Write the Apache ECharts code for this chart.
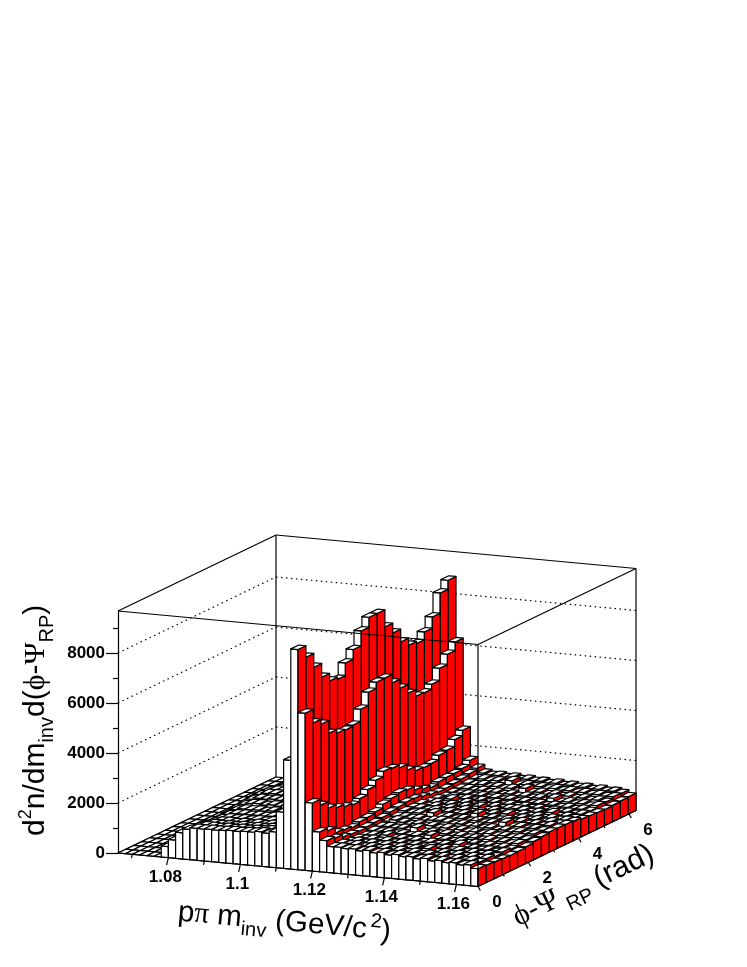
<!DOCTYPE html>
<html>
<head>
<meta charset="utf-8">
<script src="https://cdn.jsdelivr.net/npm/echarts@6/dist/echarts.min.js"></script>
<style>html,body{margin:0;padding:0;background:#fff}#main{width:747px;height:967px}</style>
</head>
<body>
<div id="main"></div>
<script>
const massMin = 1.066, massMax = 1.166, massBinWidth = 0.002;
const phiMax = 6.2832, phiBinWidth = 0.31416;
const zMax = 9680;

const massTicksMajor = [1.08, 1.1, 1.12, 1.14, 1.16];
const massTicksMinor = [1.07, 1.09, 1.11, 1.13, 1.15];
const phiTicksMajor = [0, 2, 4, 6];
const phiTicksMinor = [1, 3, 5];
const zTicksMajor = [0, 2000, 4000, 6000, 8000];
const zTicksMinor = [1000, 3000, 5000, 7000, 9000];

// counts[massBin][phiBin]
const zeroRow = [0,0,0,0,0,0,0,0,0,0,0,0,0,0,0,0,0,0,0,0];
const counts = [
  zeroRow, zeroRow, zeroRow, zeroRow, zeroRow, zeroRow,
  [440,430,410,400,395,400,410,430,450,470,465,450,420,405,395,395,410,430,450,465],
  [730,705,670,640,630,640,655,690,725,750,745,715,675,650,630,625,655,680,715,745],
  [1050,1005,960,915,890,905,935,990,1035,1070,1060,1020,965,925,895,890,935,975,1020,1060],
  [1210,1160,1100,1050,1030,1045,1075,1140,1195,1235,1225,1170,1105,1065,1030,1030,1075,1120,1175,1220],
  [1280,1225,1165,1115,1090,1100,1140,1205,1265,1305,1290,1245,1175,1125,1090,1095,1135,1185,1245,1290],
  [1275,1230,1150,1125,1080,1115,1130,1225,1250,1320,1295,1240,1170,1130,1095,1090,1140,1180,1240,1295],
  [1290,1215,1170,1110,1105,1090,1150,1190,1280,1295,1320,1245,1180,1120,1090,1105,1135,1195,1255,1285],
  [1285,1250,1155,1135,1085,1120,1125,1230,1260,1325,1280,1260,1165,1150,1100,1095,1150,1185,1235,1300],
  [1300,1225,1190,1100,1115,1100,1165,1200,1285,1300,1335,1240,1200,1125,1110,1105,1140,1195,1265,1295],
  [1320,1260,1165,1155,1095,1130,1135,1240,1270,1345,1295,1270,1185,1140,1100,1115,1155,1205,1250,1315],
  [1310,1250,1200,1120,1130,1105,1180,1215,1305,1315,1350,1255,1205,1145,1120,1105,1150,1195,1275,1310],
  [1335,1270,1180,1170,1105,1145,1145,1255,1280,1360,1310,1280,1195,1155,1115,1125,1170,1215,1265,1330],
  [1340,1275,1220,1135,1140,1120,1195,1225,1320,1335,1370,1270,1215,1160,1130,1125,1165,1210,1290,1330],
  [1380,1310,1210,1185,1135,1170,1180,1280,1315,1400,1360,1320,1230,1185,1140,1150,1195,1245,1300,1370],
  [1350,1300,1250,1170,1170,1155,1225,1255,1355,1370,1405,1310,1245,1190,1160,1155,1200,1245,1315,1370],
  [1430,1370,1290,1240,1200,1220,1250,1330,1390,1450,1440,1370,1300,1240,1205,1200,1260,1310,1370,1430],
  [2250,2140,2010,1900,1840,1850,1950,2060,2190,2290,2280,2130,2010,1890,1830,1820,1910,2030,2170,2270],
  [4350,4130,3860,3590,3450,3420,3650,3850,4120,4300,4310,4000,3800,3550,3420,3390,3540,3750,4130,4300],
  [8808,8348,7796,7244,6944,6860,7360,7744,8336,8732,8728,8040,7648,7136,6852,6768,7080,7528,8336,8692],
  [6288,5748,5544,5028,4880,4848,4896,5384,5912,6160,6168,5828,5464,5108,4840,4820,5016,5504,5912,6252],
  [2724,2476,2208,2068,1956,1872,1988,2196,2416,2624,2580,2452,2208,2028,1996,2020,2200,2248,2524,2744],
  [1592,1480,1248,1204,1144,1232,1256,1328,1484,1560,1632,1588,1436,1308,1224,1312,1336,1344,1392,1564],
  [1270,1210,1100,1060,1030,1060,1080,1130,1200,1250,1290,1270,1190,1120,1070,1080,1110,1150,1210,1280],
  [1050,1030,950,935,900,945,950,1010,1050,1120,1110,1100,1020,990,940,950,960,1010,1040,1110],
  [1060,1000,990,915,935,910,975,1085,1060,1060,1105,1020,1015,930,945,900,970,975,1055,1045],
  [1020,1035,935,950,890,945,930,1020,1020,1090,1055,1060,960,1040,890,935,920,1005,1000,1070],
  [1045,965,970,895,990,880,960,955,1050,1030,1085,985,995,895,925,870,955,935,1035,1010],
  [990,1005,920,935,865,915,900,1005,990,1150,1020,1035,925,945,860,915,890,985,970,1055],
  [1035,950,955,870,905,860,1030,935,1030,1005,1065,955,980,875,905,845,935,915,1090,985],
  [965,985,895,915,845,895,875,985,1050,1050,1000,1015,905,925,835,895,870,965,945,1025],
  [1005,925,930,850,885,835,915,915,1005,980,1035,935,1030,855,880,825,915,895,985,965],
  [935,965,875,890,825,965,850,955,945,1025,965,985,885,900,815,880,845,1020,925,995],
  [975,895,905,825,860,815,895,885,985,945,1100,905,925,835,860,805,885,875,955,935],
  [915,940,845,865,795,855,825,935,915,995,935,965,855,875,795,850,825,915,895,975],
  [945,875,960,805,835,785,875,865,955,925,985,885,895,880,835,785,865,845,935,905],
  [885,915,825,845,775,825,805,905,895,965,915,1015,835,850,775,825,795,895,875,945],
  [925,845,855,775,885,765,845,845,935,895,965,865,875,785,810,755,910,825,905,885],
  [855,885,795,815,755,805,775,885,865,1035,885,905,815,825,745,805,775,865,845,915],
  [895,815,835,755,785,735,825,815,905,875,935,835,845,765,785,735,815,795,885,855],
  [835,855,775,785,725,775,755,855,845,915,855,885,785,870,725,775,755,845,825,895],
  [865,795,805,735,765,715,795,795,885,845,905,815,825,735,760,715,795,775,855,835],
  [805,835,755,765,705,755,735,825,815,895,835,855,765,775,705,755,725,815,805,865],
  [835,775,785,705,745,695,775,775,855,825,885,795,795,715,735,695,775,755,825,805],
  [710,690,660,640,620,640,670,730,770,810,810,800,770,700,680,660,640,660,680,700]
];

// title pieces, laid out left to right along a rotated baseline
const massTitle = [
  {t: 'p', s: 29.5}, {t: 'π', s: 29.5, serif: true}, {t: ' m', s: 29.5},
  {t: 'inv', s: 20, dy: 8}, {t: ' (GeV/c', s: 29.5}, {t: ' ', s: 12}, {t: '2', s: 20, dy: -12}, {t: ')', s: 29.5}
];
const zTitle = [
  {t: 'd', s: 30}, {t: '2', s: 18, dy: -14}, {t: 'n/dm', s: 30}, {t: 'inv', s: 20, dy: 8},
  {t: 'd(', s: 30}, {t: 'ϕ', s: 30, serif: true}, {t: '-', s: 30}, {t: 'Ψ', s: 30, serif: true},
  {t: 'RP', s: 20, dy: 8}, {t: ')', s: 30}
];
const phiTitle = [
  {t: 'ϕ', s: 30, serif: true}, {t: '-', s: 30}, {t: 'Ψ', s: 30, serif: true},
  {t: ' RP', s: 20, dy: 8}, {t: ' (rad)', s: 30}
];

const SANS = '"Liberation Sans", Arial, sans-serif';
const SERIF = '"Liberation Serif", "DejaVu Serif", serif';
const measure = document.createElement('canvas').getContext('2d');

// deg is clockwise on screen
function buildTitle(x, y, deg, parts) {
  let cx = 0;
  const children = parts.map(function (p) {
    const fam = p.serif ? SERIF : SANS;
    measure.font = p.s + 'px ' + fam;
    const w = measure.measureText(p.t).width;
    const el = {
      type: 'text',
      x: cx,
      y: (p.dy || 0) - 0.33 * p.s,
      style: { text: p.t, fontSize: p.s, fontFamily: fam, fill: '#000', align: 'left', verticalAlign: 'middle' }
    };
    cx += w;
    return el;
  });
  return { type: 'group', x: x, y: y, rotation: -deg * Math.PI / 180, silent: true, children: children };
}

// the box sits on the mass/count grid, phi shears it back and to the right
function project(api, mass, phi, z) {
  const p = api.coord([mass, z]);
  const u = (mass - massMin) / (massMax - massMin);
  const v = phi / phiMax;
  return [p[0] + 158 * v, p[1] + 33.5 * u - 76 * v];
}

function line(a, b, style) {
  return { type: 'line', shape: { x1: a[0], y1: a[1], x2: b[0], y2: b[1] }, style: style };
}

const barData = [];
for (let j = 19; j >= 0; j--) {
  for (let i = 0; i < counts.length; i++) {
    barData.push([massMin + i * massBinWidth, j * phiBinWidth, counts[i][j]]);
  }
}

function renderBar(params, api) {
  const m0 = api.value(0), m1 = m0 + massBinWidth;
  const f0 = api.value(1), f1 = f0 + phiBinWidth;
  const h = api.value(2);
  const edge = { stroke: '#000', lineWidth: 1.2, lineJoin: 'round' };
  const a = project(api, m0, f0, h), b = project(api, m1, f0, h);
  const c = project(api, m1, f1, h), d = project(api, m0, f1, h);
  const b0 = project(api, m1, f0, 0), a0 = project(api, m0, f0, 0), c0 = project(api, m1, f1, 0);
  const children = [];
  if (h > 0) {
    children.push({ type: 'polygon', shape: { points: [a, b, b0, a0] }, style: Object.assign({ fill: '#fff' }, edge) });
    children.push({ type: 'polygon', shape: { points: [b, c, c0, b0] }, style: Object.assign({ fill: '#f00' }, edge) });
  }
  children.push({ type: 'polygon', shape: { points: [a, b, c, d] }, style: Object.assign({ fill: '#fff' }, edge) });
  return { type: 'group', children: children };
}

function renderWalls(params, api) {
  const solid = { stroke: '#000', lineWidth: 1.2 };
  const dotted = { stroke: '#000', lineWidth: 1.2, lineDash: [1.5, 3.5] };
  const children = [];
  const lo = massMin, hi = massMax;
  zTicksMajor.forEach(function (z) {
    if (z === 0) return;
    const a = project(api, lo, 0, z), b = project(api, lo, phiMax, z), c = project(api, hi, phiMax, z);
    children.push(line(a, b, dotted), line(b, c, dotted));
  });
  const a0 = project(api, lo, 0, 0), b0 = project(api, lo, phiMax, 0), c0 = project(api, hi, phiMax, 0);
  const a1 = project(api, lo, 0, zMax), b1 = project(api, lo, phiMax, zMax), c1 = project(api, hi, phiMax, zMax);
  children.push(line(a1, b1, solid), line(b1, c1, solid), line(b0, b1, solid), line(c0, c1, solid), line(a0, b0, solid));
  return { type: 'group', children: children };
}

function renderFront(params, api) {
  const solid = { stroke: '#000', lineWidth: 1.2 };
  const lo = massMin, hi = massMax;
  const a0 = project(api, lo, 0, 0), d0 = project(api, hi, 0, 0), c0 = project(api, hi, phiMax, 0);
  const a1 = project(api, lo, 0, zMax), d1 = project(api, hi, 0, zMax), c1 = project(api, hi, phiMax, zMax);
  const children = [line(a1, d1, solid), line(d1, c1, solid), line(d0, d1, solid), line(a0, d0, solid), line(d0, c0, solid)];

  massTicksMajor.concat(massTicksMinor).forEach(function (m) {
    const major = massTicksMajor.indexOf(m) >= 0;
    const p = project(api, m, 0, 0);
    children.push(line(p, major ? [p[0] - 1.8, p[1] + 7.5] : [p[0] - 0.9, p[1] + 3.8], solid));
    if (major) {
      children.push({
        type: 'text', x: p[0] - 3, y: p[1] + 19.5,
        style: { text: String(m), fontSize: 17, fontWeight: 'bold', fontFamily: SANS, fill: '#000', align: 'center', verticalAlign: 'middle' }
      });
    }
  });
  phiTicksMajor.concat(phiTicksMinor).forEach(function (f) {
    const major = phiTicksMajor.indexOf(f) >= 0;
    const p = project(api, massMax, f, 0);
    children.push(line(p, major ? [p[0] + 2.4, p[1] + 4] : [p[0] + 1.2, p[1] + 2], solid));
    if (major) {
      children.push({
        type: 'text', x: p[0] + 19, y: p[1] + 16,
        style: { text: String(f), fontSize: 17, fontWeight: 'bold', fontFamily: SANS, fill: '#000', align: 'center', verticalAlign: 'middle' }
      });
    }
  });
  return { type: 'group', children: children };
}

const chart = echarts.init(document.getElementById('main'), null, { renderer: 'canvas' });

chart.setOption({
  animation: false,
  backgroundColor: '#fff',
  grid: { left: 118, top: 611, width: 360, height: 242 },
  xAxis: { type: 'value', min: massMin, max: massMax, show: false },
  yAxis: [
    {
      type: 'value', min: 0, max: zMax, position: 'left', splitLine: { show: false },
      axisLine: { show: true, onZero: false, lineStyle: { color: '#000', width: 1.2 } },
      axisTick: { show: true, length: 12, lineStyle: { color: '#000', width: 1.2 }, customValues: zTicksMajor },
      axisLabel: {
        customValues: zTicksMajor, margin: 13, fontSize: 17, fontWeight: 'bold',
        fontFamily: SANS, color: '#000', formatter: function (v) { return String(v); }
      }
    },
    {
      type: 'value', min: 0, max: zMax, position: 'left', splitLine: { show: false },
      axisLine: { show: false },
      axisTick: { show: true, length: 5, lineStyle: { color: '#000', width: 1.2 }, customValues: zTicksMinor },
      axisLabel: { show: false }
    }
  ],
  graphic: [
    buildTitle(177, 922, 5.3, massTitle),
    buildTitle(46, 836, -90, zTitle),
    buildTitle(519, 928, -25.7, phiTitle)
  ],
  series: [
    { type: 'custom', z: 1, silent: true, clip: false, data: [[massMin, 0]], renderItem: renderWalls },
    {
      type: 'custom', z: 2, silent: true, clip: false, progressive: 0,
      encode: { x: 0, y: 2 }, data: barData, renderItem: renderBar
    },
    { type: 'custom', z: 3, silent: true, clip: false, data: [[massMin, 0]], renderItem: renderFront }
  ]
});
</script>
</body>
</html>
